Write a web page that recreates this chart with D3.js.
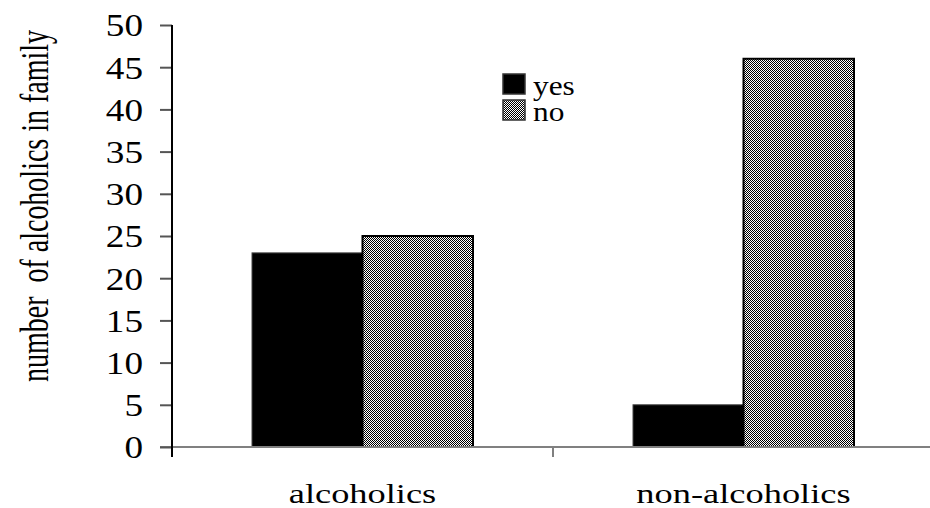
<!DOCTYPE html>
<html><head><meta charset="utf-8">
<script src="https://cdn.jsdelivr.net/npm/d3@7"></script>
<style>body{margin:0;background:#fff}svg{display:block}text{font-family:"Liberation Serif","Times New Roman",serif;fill:#000}</style>
</head><body><svg id="c" width="930" height="508"></svg>
<script>
const categories = ["alcoholics", "non-alcoholics"];
const series = ["yes", "no"];
const yesValues = [23, 5];
const noValues = [25, 46];
const yTicks = [0, 5, 10, 15, 20, 25, 30, 35, 40, 45, 50];
const yTitle = "number  of alcoholics in family";

const svg = d3.select("#c");
const defs = svg.append("defs");
const pat = defs.append("pattern").attr("id", "chk").attr("patternUnits", "userSpaceOnUse")
  .attr("width", 2).attr("height", 2);
pat.append("rect").attr("width", 2).attr("height", 2).attr("fill", "#fff");
pat.append("rect").attr("width", 1).attr("height", 1).attr("fill", "#000");
pat.append("rect").attr("x", 1).attr("y", 1).attr("width", 1).attr("height", 1).attr("fill", "#000");

const x0 = d3.scaleBand().domain(categories).range([172, 934]);
const x1 = d3.scaleBand().domain(series).range([80, 301]);
const y = d3.scaleLinear().domain([0, 50]).range([447, 25]);

const rows = categories.map((c, i) => ({cat: c, vals: [{s: "yes", v: yesValues[i]}, {s: "no", v: noValues[i]}]}));

// bars
const g = svg.append("g");
rows.forEach(r => {
  r.vals.forEach(d => {
    g.append("rect")
      .attr("x", x0(r.cat) + x1(d.s))
      .attr("y", y(d.v))
      .attr("width", x1.bandwidth())
      .attr("height", y(0) - y(d.v))
      .attr("fill", d.s === "yes" ? "#000" : "url(#chk)")
      .attr("stroke", d.s === "yes" ? "#444" : "#000")
      .attr("stroke-width", d.s === "yes" ? 1 : 2);
  });
});

// x axis
svg.append("line").attr("x1", 160).attr("x2", 930).attr("y1", y(0)).attr("y2", y(0))
  .attr("stroke", "#808080").attr("stroke-width", 2);
categories.forEach(c => {
  const xe = x0(c) + x0.bandwidth();
  svg.append("line").attr("x1", xe).attr("x2", xe).attr("y1", y(0)).attr("y2", y(0) + 10)
    .attr("stroke", "#808080").attr("stroke-width", 2);
  svg.append("text").attr("transform", `translate(${x0(c) + x0.bandwidth() / 2},503) scale(1.3,1)`)
    .attr("text-anchor", "middle").attr("font-size", 28).text(c);
});

// y axis
const ya = svg.append("g").attr("transform", "translate(172,0)")
  .call(d3.axisLeft(y).tickValues(yTicks).tickSize(12).tickSizeOuter(0));
ya.select(".domain").remove();
ya.selectAll(".tick line").attr("stroke", "#555").attr("stroke-width", 2);
ya.selectAll(".tick text").attr("x", null).attr("dy", null)
  .attr("font-family", null).attr("font-size", 31).attr("fill", "#000")
  .attr("dominant-baseline", "central")
  .attr("transform", "translate(-29,0) scale(1.2,1)");
svg.append("line").attr("x1", 172).attr("x2", 172).attr("y1", y(50)).attr("y2", y(0) + 10)
  .attr("stroke", "#000").attr("stroke-width", 2);

// y title
svg.append("text").attr("transform", "translate(48,206) rotate(-90) scale(1,1.45)")
  .attr("text-anchor", "middle").attr("font-size", 28).style("white-space", "pre").text(yTitle);

// legend
const leg = svg.append("g").attr("transform", "translate(503,74)");
series.forEach((s, i) => {
  leg.append("rect").attr("x", 0).attr("y", i * 26).attr("width", 22).attr("height", 20)
    .attr("fill", s === "yes" ? "#000" : "url(#chk)").attr("stroke", "#333").attr("stroke-width", 1.5);
  leg.append("text").attr("transform", `translate(30,${i * 26 + 21}) scale(1.12,1)`)
    .attr("font-size", 28).text(s);
});
</script></body></html>
